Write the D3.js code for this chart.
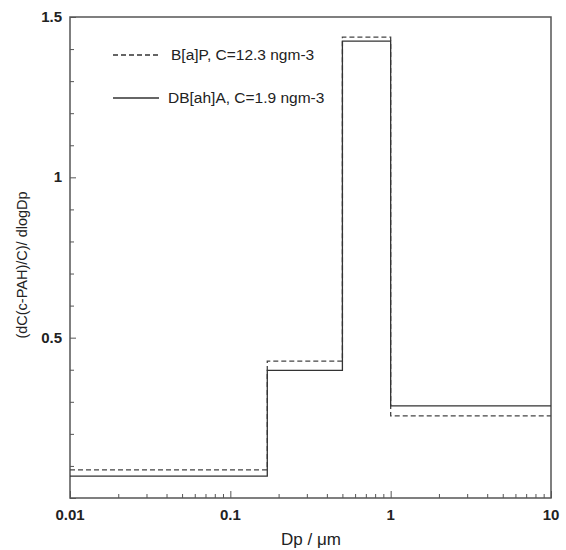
<!DOCTYPE html>
<html><head><meta charset="utf-8">
<script src="https://cdn.jsdelivr.net/npm/d3@7"></script>
<style>body{margin:0;background:#fff}svg{display:block}text{font-family:"Liberation Sans",Arial,sans-serif}</style>
</head><body>
<svg id="c" width="566" height="550"></svg>
<script>
const binEdges = [0.01, 0.17, 0.5, 1, 10];
const bapValues = [0.088, 0.427, 1.437, 0.256];
const dbaValues = [0.068, 0.398, 1.425, 0.287];
const seriesNames = ["B[a]P, C=12.3 ngm-3", "DB[ah]A, C=1.9 ngm-3"];
const xTickLabels = ["0.01", "0.1", "1", "10"];
const yTickLabels = ["0.5", "1", "1.5"];

const svg = d3.select("#c");
const m = {l:70, r:551, t:17, b:498};
const x = d3.scaleLog().domain([0.01, 10]).range([m.l, m.r]);
const y = d3.scaleLinear().domain([0, 1.5]).range([m.b, m.t]);
const axisCol = "#555";

// frame
svg.append("rect").attr("x", m.l).attr("y", m.t).attr("width", m.r - m.l).attr("height", m.b - m.t)
  .attr("fill", "none").attr("stroke", axisCol).attr("stroke-width", 1.5);

// x ticks (inward)
const xMinor = [];
for (let d = -2; d < 1; d++) for (let k = 1; k <= 9; k++) xMinor.push(k * Math.pow(10, d));
xMinor.push(10);
const xAxis = d3.axisBottom(x).tickValues(xMinor).tickSize(0).tickFormat("");
const gx = svg.append("g").attr("transform", `translate(0,${m.b})`).call(xAxis);
gx.select(".domain").remove();
gx.selectAll(".tick").append("line").attr("y1", 0)
  .attr("y2", d => (Math.abs(Math.log10(d) - Math.round(Math.log10(d))) < 1e-9) ? -7 : -4)
  .attr("stroke", axisCol);
xTickLabels.forEach(t => {
  svg.append("text").attr("x", x(+t)).attr("y", m.b + 22).attr("text-anchor", "middle")
    .attr("font-size", 15).attr("font-weight", "bold").attr("fill", "#222").text(t);
});

// y ticks (inward)
const yMinor = d3.range(0, 16).map(i => i / 10);
const yAxis = d3.axisLeft(y).tickValues(yMinor).tickSize(0).tickFormat("");
const gy = svg.append("g").attr("transform", `translate(${m.l},0)`).call(yAxis);
gy.select(".domain").remove();
gy.selectAll(".tick").append("line").attr("x1", 0)
  .attr("x2", d => (Math.round(d * 10) % 5 === 0) ? 6 : 4).attr("stroke", axisCol);
yTickLabels.forEach(t => {
  svg.append("text").attr("x", m.l - 8).attr("y", y(+t) + 5).attr("text-anchor", "end")
    .attr("font-size", 15).attr("font-weight", "bold").attr("fill", "#222").text(t);
});

// step lines
function stepPts(vals) {
  const pts = [];
  vals.forEach((v, i) => { pts.push([binEdges[i], v]); pts.push([binEdges[i + 1], v]); });
  return pts;
}
const line = d3.line().x(d => x(d[0])).y(d => y(d[1]));
svg.append("path").attr("d", line(stepPts(bapValues))).attr("fill", "none")
  .attr("stroke", "#444").attr("stroke-width", 1.3).attr("stroke-dasharray", "5,3");
svg.append("path").attr("d", line(stepPts(dbaValues))).attr("fill", "none")
  .attr("stroke", "#333").attr("stroke-width", 1.3);

// legend
const lg = [[55, "5,3"], [98, null]];
seriesNames.forEach((n, i) => {
  const l = svg.append("line").attr("x1", 113).attr("x2", 159).attr("y1", lg[i][0]).attr("y2", lg[i][0])
    .attr("stroke", "#333").attr("stroke-width", 1.3);
  if (lg[i][1]) l.attr("stroke-dasharray", lg[i][1]);
  svg.append("text").attr("x", i === 0 ? 171 : 168).attr("y", lg[i][0] + 5).attr("font-size", 15.5)
    .attr("fill", "#222").text(n);
});

// axis titles
svg.append("text").attr("x", 311).attr("y", 545).attr("text-anchor", "middle").attr("font-size", 17)
  .attr("fill", "#222").text("Dp / μm");
svg.append("text").attr("transform", "translate(27,265) rotate(-90)").attr("text-anchor", "middle")
  .attr("font-size", 14.5).attr("fill", "#222").text("(dC(c-PAH)/C)/ dlogDp");
</script>
</body></html>
